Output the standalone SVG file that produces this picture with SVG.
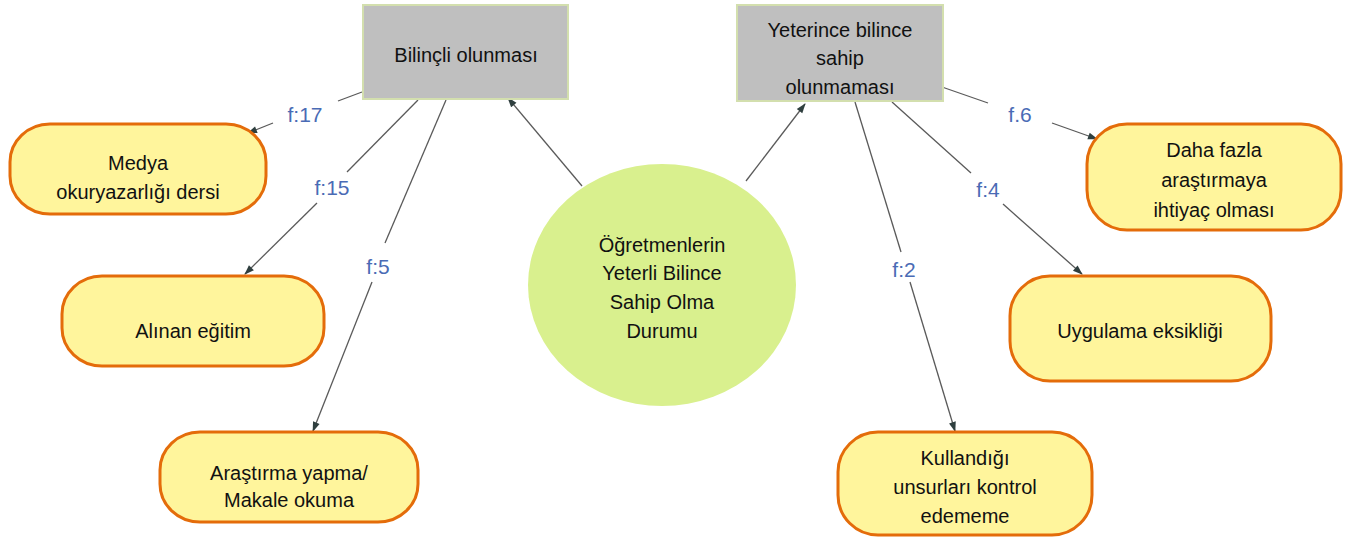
<svg xmlns="http://www.w3.org/2000/svg" width="1350" height="540" viewBox="0 0 1350 540">
<defs>
<style>
.t{font-family:"Liberation Sans",Arial,sans-serif;font-size:20px;fill:#111111;text-anchor:middle}
.lbl{font-family:"Liberation Sans",Arial,sans-serif;font-size:21px;fill:#4a6bb5;text-anchor:middle}
.grey{fill:#bfbfbf;stroke:#d3dfae;stroke-width:2}
.leaf{fill:#fff59c;stroke:#e46c0a;stroke-width:3}
.ln{stroke:#5a5a5a;stroke-width:1.3;fill:none}
.ar{stroke:#5a5a5a;stroke-width:1.3;fill:none;marker-end:url(#ah)}
</style>
<marker id="ah" viewBox="0 0 10 10" refX="9" refY="5" markerWidth="11" markerHeight="10" markerUnits="userSpaceOnUse" orient="auto">
<path d="M0,1.5 L10,5 L0,8.5 z" fill="#2f3f3f"/>
</marker>
</defs>
<rect width="1350" height="540" fill="#ffffff"/>
<g id="connectors">
<line class="ar" x1="582" y1="186" x2="508" y2="98"/>
<line class="ar" x1="746" y1="181" x2="805" y2="104"/>
<line class="ln" x1="362" y1="92" x2="338" y2="101"/>
<line class="ar" x1="273" y1="123" x2="248" y2="133"/>
<line class="ln" x1="418" y1="100" x2="347" y2="172"/>
<line class="ar" x1="317" y1="203" x2="245" y2="274"/>
<line class="ln" x1="446" y1="100" x2="385" y2="243"/>
<line class="ar" x1="372" y1="282" x2="313" y2="431"/>
<line class="ln" x1="942" y1="87" x2="988" y2="103"/>
<line class="ar" x1="1052" y1="123" x2="1097" y2="139"/>
<line class="ln" x1="892" y1="102" x2="971" y2="173"/>
<line class="ar" x1="1003" y1="204" x2="1082" y2="274"/>
<line class="ln" x1="855" y1="102" x2="901" y2="252"/>
<line class="ar" x1="910" y1="282" x2="955" y2="431"/>
<text class="lbl" x="305" y="122">f:17</text>
<text class="lbl" x="332" y="195">f:15</text>
<text class="lbl" x="378" y="274">f:5</text>
<text class="lbl" x="1020" y="122">f.6</text>
<text class="lbl" x="988" y="197">f:4</text>
<text class="lbl" x="904" y="277">f:2</text>
</g>
<g id="center">
<ellipse cx="662" cy="285" rx="134" ry="121" fill="#d9f08e"/>
<text class="t" x="662" y="252">Öğretmenlerin</text>
<text class="t" x="662" y="280">Yeterli Bilince</text>
<text class="t" x="662" y="309">Sahip Olma</text>
<text class="t" x="662" y="338">Durumu</text>
</g>
<g id="bilincli">
<rect class="grey" x="363" y="5" width="205" height="94"/>
<text class="t" x="466" y="62">Bilinçli olunması</text>
</g>
<g id="yeterince">
<rect class="grey" x="737" y="5" width="206" height="96"/>
<text class="t" x="840" y="37">Yeterince bilince</text>
<text class="t" x="840" y="65">sahip</text>
<text class="t" x="840" y="94">olunmaması</text>
</g>
<g id="medya">
<rect class="leaf" x="10" y="124" width="256" height="90" rx="40" ry="38"/>
<text class="t" x="138" y="170">Medya</text>
<text class="t" x="138" y="199">okuryazarlığı dersi</text>
</g>
<g id="alinan">
<rect class="leaf" x="62" y="276" width="262" height="90" rx="40" ry="38"/>
<text class="t" x="193" y="338">Alınan eğitim</text>
</g>
<g id="arastirma">
<rect class="leaf" x="160" y="432" width="258" height="90" rx="40" ry="38"/>
<text class="t" x="289" y="480">Araştırma yapma/</text>
<text class="t" x="289" y="507">Makale okuma</text>
</g>
<g id="dahafazla">
<rect class="leaf" x="1087" y="124" width="254" height="106" rx="40" ry="40"/>
<text class="t" x="1214" y="157">Daha fazla</text>
<text class="t" x="1214" y="187">araştırmaya</text>
<text class="t" x="1214" y="217">ihtiyaç olması</text>
</g>
<g id="uygulama">
<rect class="leaf" x="1010" y="276" width="261" height="105" rx="40" ry="40"/>
<text class="t" x="1140" y="338">Uygulama eksikliği</text>
</g>
<g id="kullandigi">
<rect class="leaf" x="838" y="432" width="254" height="103" rx="40" ry="40"/>
<text class="t" x="965" y="465">Kullandığı</text>
<text class="t" x="965" y="494">unsurları kontrol</text>
<text class="t" x="965" y="523">edememe</text>
</g>
</svg>
